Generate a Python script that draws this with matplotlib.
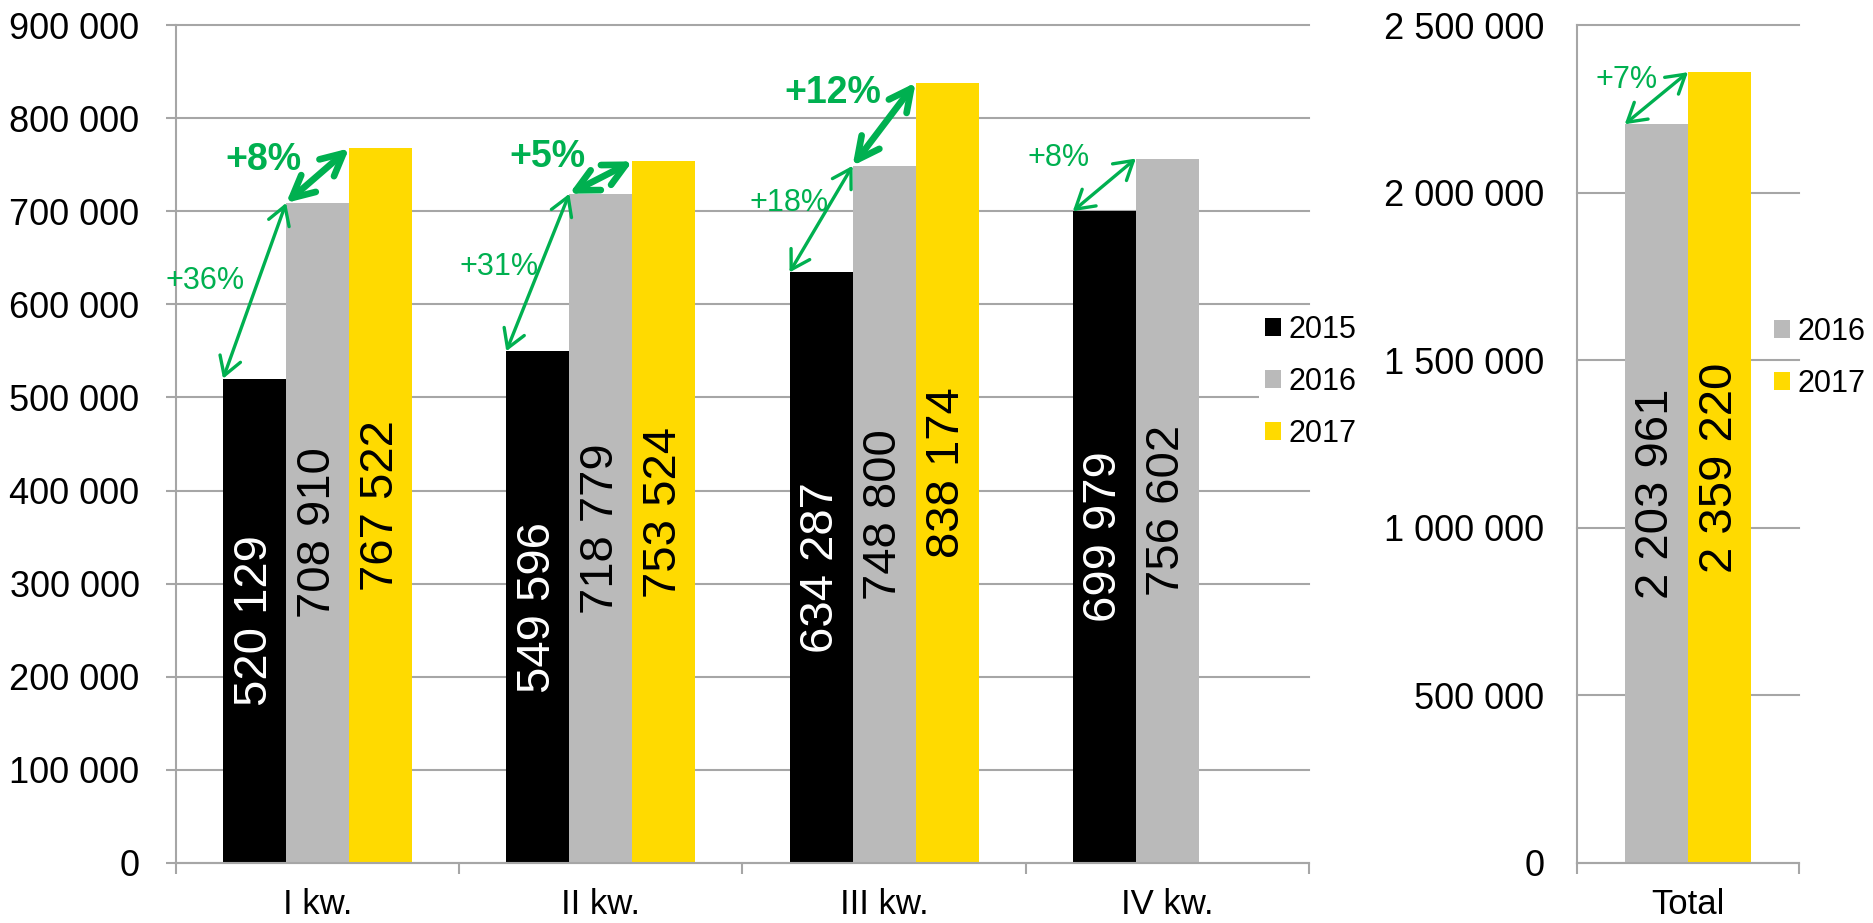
import numpy as np
import matplotlib
matplotlib.use("Agg")
import matplotlib.pyplot as plt

plt.rcParams['font.family'] = ['Liberation Sans', 'DejaVu Sans']

# Data
quarters = ["I kw.", "II kw.", "III kw.", "IV kw."]
v2015 = [520129, 549596, 634287, 699979]
v2016 = [708910, 718779, 748800, 756602]
v2017 = [767522, 753524, 838174]
total_labels = ["Total"]
tot2016 = [2203961]
tot2017 = [2359220]

# (bar from, bar to, label, thick?, text offset in pixels from arrow middle)
quarter_arrows = [
    (("2015", 0), ("2016", 0), "+36%", False, (-50, 10)),
    (("2016", 0), ("2017", 0), "+8%", True, (-54, 16)),
    (("2015", 1), ("2016", 1), "+31%", False, (-39, 6)),
    (("2016", 1), ("2017", 1), "+5%", True, (-53, 21)),
    (("2015", 2), ("2016", 2), "+18%", False, (-32, 16)),
    (("2016", 2), ("2017", 2), "+12%", True, (-51, 31)),
    (("2015", 3), ("2016", 3), "+8%", False, (-46, 27)),
]
total_arrows = [
    (("2016", 0), ("2017", 0), "+7%", False, (-30, 18)),
]

c_black = "#000000"
c_grey = "#BABABA"
c_yellow = "#FFDA00"
c_green = "#00B050"
c_grid = "#A6A6A6"


def fmt(v):
    return f"{int(v):,}".replace(",", " ")


def style_axes(ax, ymax, ystep, ytick_len, ypad):
    ax.set_ylim(0, ymax)
    ax.set_yticks(np.arange(0, ymax + 1, ystep))
    ax.set_yticklabels([fmt(t) for t in np.arange(0, ymax + 1, ystep)])
    ax.yaxis.grid(True, color=c_grid, lw=1.5)
    ax.set_axisbelow(True)
    for s in ["top", "right"]:
        ax.spines[s].set_visible(False)
    for s in ["left", "bottom"]:
        ax.spines[s].set_color(c_grid)
        ax.spines[s].set_linewidth(1.5)
    ax.tick_params(axis="y", labelsize=26, length=ytick_len, width=1.5,
                   color=c_grid, pad=ypad)
    ax.tick_params(axis="x", which="major", labelsize=25, length=0, pad=18)
    ax.tick_params(axis="x", which="minor", length=8, width=1.5, color=c_grid)
    for gl in ax.get_ygridlines():
        gl.set_clip_on(False)


def label_bars(ax, bars, color):
    for b in bars:
        h = b.get_height()
        ax.text(b.get_x() + b.get_width() / 2, h / 2, fmt(h), rotation=90,
                ha="center", va="center", fontsize=34, color=color)


def draw_arrows(ax, groups, arrows):
    for (s1, i1), (s2, i2), txt, thick, off in arrows:
        b1 = groups[s1][i1]
        b2 = groups[s2][i2]
        p1 = (b1.get_x(), b1.get_height())
        p2 = (b2.get_x(), b2.get_height())
        if thick:
            props = dict(arrowstyle="<->,head_length=0.5,head_width=0.25",
                         lw=4.8, color=c_green, shrinkA=0, shrinkB=0,
                         mutation_scale=32, capstyle="round", joinstyle="round")
        else:
            props = dict(arrowstyle="<->,head_length=0.5,head_width=0.3",
                         lw=2.4, color=c_green, shrinkA=0, shrinkB=0,
                         mutation_scale=26)
        ax.annotate("", xy=p2, xytext=p1, arrowprops=props, annotation_clip=False)
        mid = ((p1[0] + p2[0]) / 2, (p1[1] + p2[1]) / 2)
        ax.annotate(txt, xy=mid, xytext=off, textcoords="offset pixels",
                    ha="center", va="center", color=c_green,
                    fontsize=27 if thick else 22,
                    fontweight="bold" if thick else "normal",
                    annotation_clip=False)


fig = plt.figure(figsize=(18.74, 9.23), dpi=100)
ax1 = fig.add_axes([176 / 1874, 60 / 923, 1133 / 1874, 838 / 923])
ax2 = fig.add_axes([1577 / 1874, 60 / 923, 222 / 1874, 838 / 923])

# Quarterly chart
w = 63 / 283
x = np.arange(len(quarters))
b15 = ax1.bar(x - w, v2015, w, color=c_black, label="2015")
b16 = ax1.bar(x, v2016, w, color=c_grey, label="2016")
b17 = ax1.bar(x[:len(v2017)] + w, v2017, w, color=c_yellow, label="2017")
ax1.set_xlim(-0.5, len(quarters) - 0.5)
ax1.set_xticks(x)
ax1.set_xticklabels(quarters)
ax1.set_xticks(np.arange(len(quarters) + 1) - 0.5, minor=True)
style_axes(ax1, 900000, 100000, 7.2, 19)
label_bars(ax1, b15, "white")
label_bars(ax1, b16, "black")
label_bars(ax1, b17, "black")
draw_arrows(ax1, {"2015": b15, "2016": b16, "2017": b17}, quarter_arrows)

# Totals chart
wt = 0.285
xt = np.arange(len(total_labels))
t16 = ax2.bar(xt - wt / 2, tot2016, wt, color=c_grey, label="2016")
t17 = ax2.bar(xt + wt / 2, tot2017, wt, color=c_yellow, label="2017")
ax2.set_xlim(-0.5, 0.5)
ax2.set_xticks(xt)
ax2.set_xticklabels(total_labels)
ax2.set_xticks([-0.5, 0.5], minor=True)
style_axes(ax2, 2500000, 500000, 0, 23.5)
label_bars(ax2, t16, "black")
label_bars(ax2, t17, "black")
draw_arrows(ax2, {"2016": t16, "2017": t17}, total_arrows)

leg_kw = dict(fontsize=22, handlelength=0.52, handleheight=0.52,
              handletextpad=0.25, labelspacing=0.72, borderpad=0.2,
              borderaxespad=0, loc="center left")
l1 = fig.legend(handles=[b15, b16, b17], bbox_to_anchor=(1259 / 1874, (923 - 382) / 923),
                frameon=True, facecolor="white", edgecolor="none", framealpha=1,
                fancybox=False, **leg_kw)
l2 = fig.legend(handles=[t16, t17], bbox_to_anchor=(1768 / 1874, (923 - 358) / 923),
                frameon=False, **leg_kw)

fig.savefig("out.png", dpi=100)
